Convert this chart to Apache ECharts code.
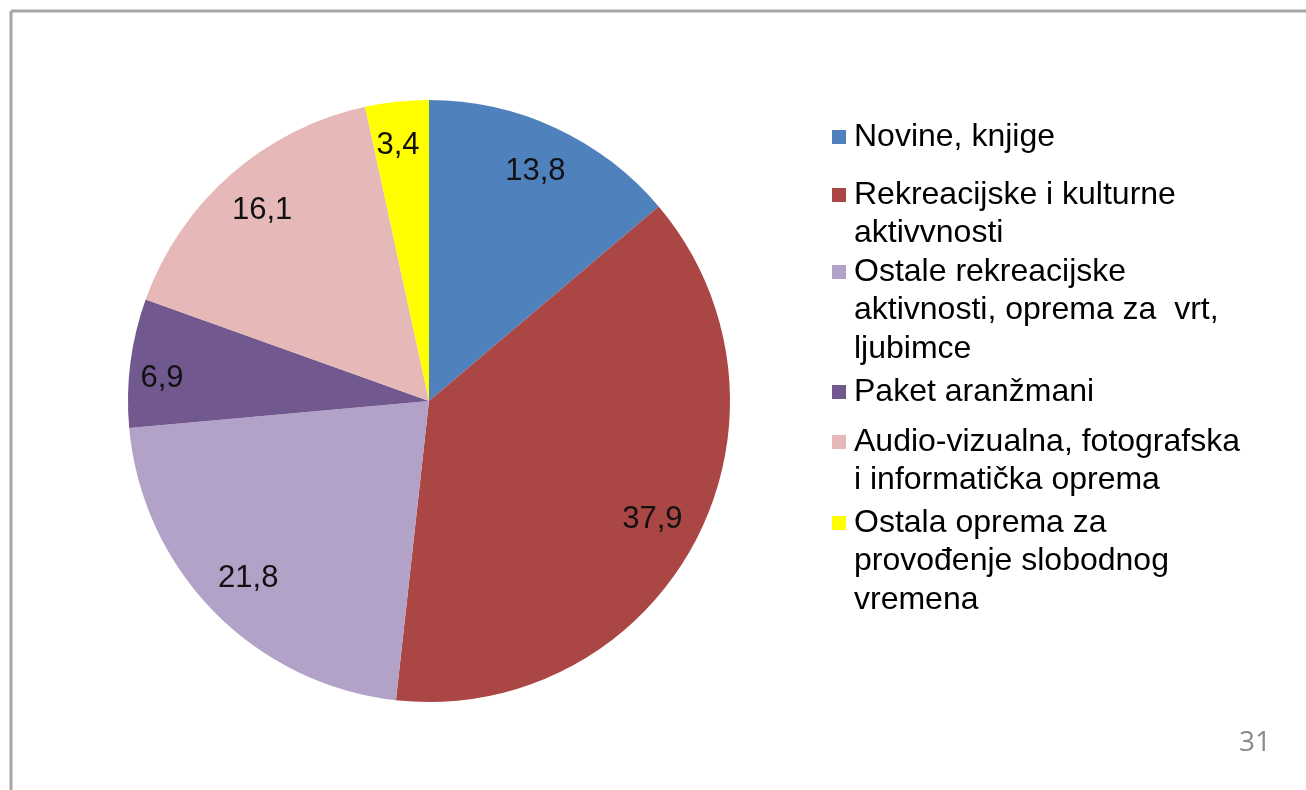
<!DOCTYPE html>
<html>
<head>
<meta charset="utf-8">
<script src="https://cdn.jsdelivr.net/npm/echarts@6/dist/echarts.min.js"></script>
<style>
html, body { margin: 0; padding: 0; background: #fff; }
#main { width: 1306px; height: 790px; }
</style>
</head>
<body>
<div id="main"></div>
<script>
// categories (line breaks as in the legend of the slide)
var categories = [
    'Novine, knjige',
    'Rekreacijske i kulturne\naktivvnosti',
    'Ostale rekreacijske\naktivnosti, oprema za  vrt,\nljubimce',
    'Paket aranžmani',
    'Audio-vizualna, fotografska\ni informatička oprema',
    'Ostala oprema za\nprovođenje slobodnog\nvremena'
];
var values = [13.8, 37.9, 21.8, 6.9, 16.1, 3.4];
var colors = ['#4F81BD', '#AA4643', '#B3A2C7', '#71588F', '#E6B9B8', '#FFFF00'];

var myChart = echarts.init(document.getElementById('main'));

var pieData = categories.map(function (c, i) {
    return { name: c, value: values[i], itemStyle: { color: colors[i] } };
});

// legend: one legend per entry so the gaps follow the slide
// blank lines are put in front so the square sits on the first text line
var lineH = 38.5;
var firstLineY = [137, 195, 272, 392, 442, 523];
var legends = categories.map(function (c, i) {
    var n = c.split('\n').length;
    var pad = new Array(n).join('\n');
    return {
        data: [c],
        orient: 'vertical',
        left: 832,
        top: firstLineY[i] - lineH / 2 - (n - 1) * lineH,
        padding: 0,
        icon: 'rect',
        itemWidth: 14,
        itemHeight: 14,
        selectedMode: false,
        formatter: function (name) { return pad + name; },
        textStyle: {
            fontFamily: 'Liberation Sans, Arial, sans-serif',
            fontSize: 32,
            color: '#000',
            lineHeight: lineH,
            padding: [0, 0, 0, 3]
        }
    };
});

var option = {
    animation: false,
    legend: legends,
    graphic: [
        { type: 'line', shape: { x1: 11, y1: 11, x2: 1306, y2: 11 }, style: { stroke: '#a6a6a6', lineWidth: 3 } },
        { type: 'line', shape: { x1: 11, y1: 11, x2: 11, y2: 790 }, style: { stroke: '#a6a6a6', lineWidth: 3 } },
        { type: 'text', left: 1239, top: 729, style: { text: '31', fontFamily: 'Open Sans, sans-serif', fontSize: 28, fill: '#8a8a8a' } }
    ],
    series: [
        {
            type: 'pie',
            center: [429, 401],
            radius: [0, 301],
            startAngle: 90,
            clockwise: true,
            silent: true,
            label: { show: false },
            labelLine: { show: false },
            itemStyle: { borderWidth: 0 },
            data: pieData
        },
        {
            // transparent ring only used to place the value labels near the rim
            type: 'pie',
            center: [429, 401],
            radius: [200, 300],
            startAngle: 90,
            clockwise: true,
            silent: true,
            itemStyle: { color: 'rgba(0,0,0,0)', borderWidth: 0 },
            label: {
                show: true,
                position: 'inside',
                fontFamily: 'Liberation Sans, Arial, sans-serif',
                fontSize: 31,
                color: '#111',
                formatter: function (p) { return String(p.value).replace('.', ','); }
            },
            labelLine: { show: false },
            data: categories.map(function (c, i) {
                var d = { name: c, value: values[i] };
                if (i === 3) d.label = { offset: [-16, 10] };
                if (i === 5) d.label = { offset: [-4, -4] };
                return d;
            })
        }
    ]
};

myChart.setOption(option);
</script>
</body>
</html>
